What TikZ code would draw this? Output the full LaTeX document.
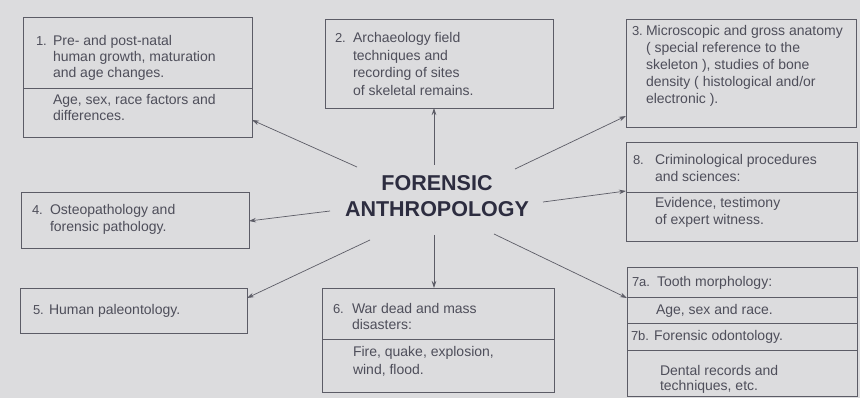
\documentclass[tikz,border=0pt]{standalone}
\usepackage{fontspec}
\setmainfont{Liberation Sans}
\usetikzlibrary{arrows.meta}
\definecolor{bg}{RGB}{220,220,222}
\definecolor{ink}{RGB}{78,78,90}
\definecolor{titleink}{RGB}{45,45,64}
\definecolor{edge}{RGB}{92,92,102}
\newcommand\mylines[2]{{\fontsize{14}{#1}\selectfont\begin{tabular}[t]{@{}l@{}}#2\end{tabular}}}
\begin{document}
\begin{tikzpicture}[x=1pt,y=-1pt,
  box/.style={draw=edge,line width=0.8pt,anchor=north west,inner sep=0pt,outer sep=0pt},
  txt/.style={anchor=base west,inner sep=0pt,outer sep=0pt,text=ink,font=\fontsize{14}{16}\selectfont},
  num/.style={txt,font=\fontsize{13}{16}\selectfont},
  divline/.style={draw=edge,line width=0.7pt},
  arr/.style={draw=edge,line width=0.7pt,-{Stealth[length=7pt,width=4.5pt]}},
  titlestyle/.style={align=center,inner sep=0pt,text=titleink,font=\fontsize{21.5}{26}\selectfont\bfseries}]
\useasboundingbox (0,0) rectangle (860,398);
\fill[bg] (0,0) rectangle (860,398);

% boxes
\node[box,minimum width=229pt,minimum height=120pt] (b1) at (23,17) {};
\node[box,minimum width=228pt,minimum height=89pt] (b2) at (325,19) {};
\node[box,minimum width=230pt,minimum height=108pt] (b3) at (626,19) {};
\node[box,minimum width=231pt,minimum height=99pt] (b8) at (626,142) {};
\node[box,minimum width=228pt,minimum height=56pt] (b4) at (21,192) {};
\node[box,minimum width=227pt,minimum height=45pt] (b5) at (20,288) {};
\node[box,minimum width=232pt,minimum height=104pt] (b6) at (322,288) {};
\node[box,minimum width=230pt,minimum height=129pt] (b7) at (627,267) {};

% dividers
\draw[divline] (b1.west |- 0,88) -- (b1.east |- 0,88);
\draw[divline] (b8.west |- 0,192) -- (b8.east |- 0,192);
\draw[divline] (b6.west |- 0,339) -- (b6.east |- 0,339);
\draw[divline] (b7.west |- 0,297) -- (b7.east |- 0,297);
\draw[divline] (b7.west |- 0,323) -- (b7.east |- 0,323);
\draw[divline] (b7.west |- 0,350) -- (b7.east |- 0,350);

% texts box 1
\node[num] (n1) at (36,46) {1.};
\node[txt] (t1a) at (53,46) {\mylines{16}{Pre- and post-natal\\human growth, maturation\\and age changes.}};
\node[txt] (t1b) at (53,105) {\mylines{16}{Age, sex, race factors and\\differences.}};
% box 2
\node[num] (n2) at (335,43) {2.};
\node[txt] (t2) at (353,43) {\mylines{17.5}{Archaeology field\\techniques and\\recording of sites\\of skeletal remains.}};
% box 3
\node[num] (n3) at (632,36) {3.};
\node[txt] (t3) at (646,36) {\mylines{17}{Microscopic and gross anatomy\\( special reference to the\\skeleton ), studies of bone\\density ( histological and/or\\electronic ).}};
% box 8
\node[num] (n8) at (633,165) {8.};
\node[txt] (t8a) at (655,165) {\mylines{17}{Criminological procedures\\and sciences:}};
\node[txt] (t8b) at (655,208) {\mylines{17}{Evidence, testimony\\of expert witness.}};
% box 4
\node[num] (n4) at (32,215) {4.};
\node[txt] (t4) at (50,215) {\mylines{17}{Osteopathology and\\forensic pathology.}};
% box 5
\node[num] (n5) at (33,314) {5.};
\node[txt] (t5) at (49,314) {Human paleontology.};
% box 6
\node[num] (n6) at (333,313) {6.};
\node[txt] (t6a) at (352,313) {\mylines{17}{War dead and mass\\disasters:}};
\node[txt] (t6b) at (353,356) {\mylines{18}{Fire, quake, explosion,\\wind, flood.}};
% box 7
\node[num] (n7a) at (632,287) {7a.};
\node[txt] (t7a) at (657,287) {Tooth morphology:};
\node[txt] (t7ab) at (656,315) {Age, sex and race.};
\node[num] (n7b) at (631,341) {7b.};
\node[txt] (t7b) at (654,341) {Forensic odontology.};
\node[txt] (t7bb) at (660,375) {\mylines{15}{Dental records and\\techniques, etc.}};

% title
\node[titlestyle] (fa) at (437,196.5) {FORENSIC\\ANTHROPOLOGY};

% connectors
\coordinate (s1) at (357,167);
\coordinate (s2) at (434,165);
\coordinate (s3) at (515,169);
\coordinate (s8) at (543,202);
\coordinate (s7) at (494,234);
\coordinate (s6) at (434,235);
\coordinate (s4) at (330,211);
\coordinate (s5) at (370,240);
\draw[arr] (s1) -- (b1.east |- 0,120);
\draw[arr] (s2) -- (b2.south -| s2);
\draw[arr] (s3) -- (b3.west |- 0,116);
\draw[arr] (s8) -- (b8.west |- 0,191);
\draw[arr] (s7) -- (b7.west |- 0,298);
\draw[arr] (s6) -- (b6.north -| s6);
\draw[arr] (s4) -- (b4.east |- 0,221);
\draw[arr] (s5) -- (b5.east |- 0,298);
\end{tikzpicture}
\end{document}
